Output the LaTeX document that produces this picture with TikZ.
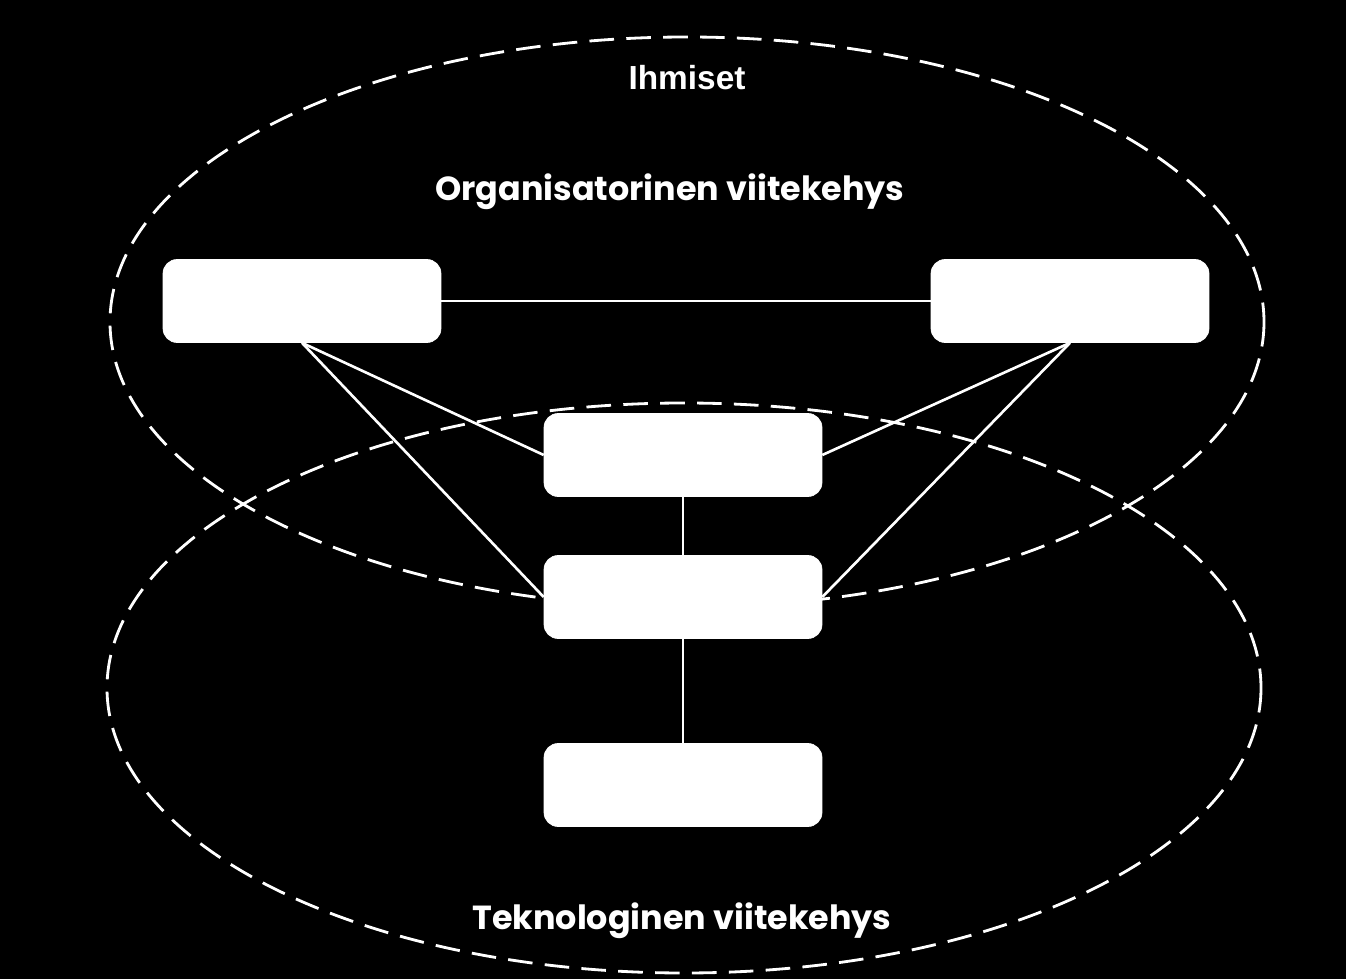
\documentclass[tikz,border=0pt]{standalone}
\usepackage{fontspec}
\setmainfont{Liberation Sans}
\newfontfamily\gothic{Poppins}
\usetikzlibrary{positioning}
\begin{document}
\begin{tikzpicture}[x=0.02cm,y=-0.02cm,
  box/.style={draw=white,fill=white,rounded corners=8pt,minimum width=5.56cm,minimum height=1.66cm},
  link/.style={white,line width=1.5pt},
  zone/.style={white,dashed,line width=1.6pt,dash pattern=on 14pt off 7pt}]

% BACKGROUND
\fill[black] (0,0) rectangle (1346,979);

% ELLIPSES
\draw[zone] (687,322) ellipse [x radius=577, y radius=285];
\draw[zone] (684,688) ellipse [x radius=577, y radius=285];

% LABELS
\node[white,font=\bfseries\fontsize{19}{22}\selectfont] (ihm) at (687,78) {Ihmiset};
\node[white,font=\gothic\bfseries\fontsize{19}{22}\selectfont] (org) at (670,192) {Organisatorinen viitekehys};
\node[white,font=\gothic\bfseries\fontsize{19}{22}\selectfont] (tek) at (682,921) {Teknologinen viitekehys};

% BOXES
\node[box] (left) at (302,301) {};
\node[box] (right) at (1070,301) {};
\node[box] (mid) at (683,455) {};
\node[box] (core) at (683,597) {};
\node[box] (base) at (683,785) {};

% LINKS
\draw[link] (left) -- (right);
\draw[link] (left.south) -- (mid.west);
\draw[link] (left.south) -- (core.west);
\draw[link] (right.south) -- (mid.east);
\draw[link] (right.south) -- (core.east);
\draw[link] (mid) -- (core);
\draw[link] (core) -- (base);

\end{tikzpicture}
\end{document}
